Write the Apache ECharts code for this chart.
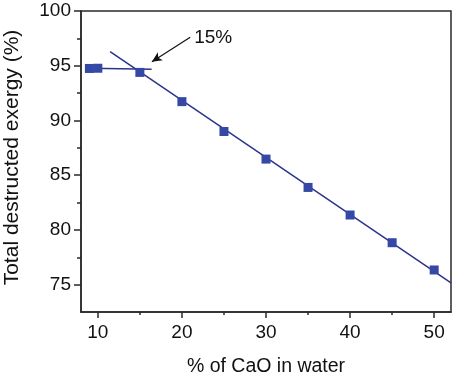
<!DOCTYPE html>
<html>
<head>
<meta charset="utf-8">
<script src="https://cdn.jsdelivr.net/npm/echarts@6/dist/echarts.min.js"></script>
<style>
html, body { margin: 0; padding: 0; background: #fff; }
#chart { width: 455px; height: 377px; }
</style>
</head>
<body>
<div id="chart"></div>
<script>
var caoPct = [9, 10, 15, 20, 25, 30, 35, 40, 45, 50];
var exergy = [94.75, 94.77, 94.39, 91.72, 88.99, 86.47, 83.88, 81.36, 78.83, 76.34];

// hand-drawn trend lines from the figure
var fitDecline = [[11.46, 96.29], [52, 75.15]];
var fitPlateau = [[9, 94.77], [16.4, 94.68]];

var xMajor = [10, 20, 30, 40, 50];
var xMinor = [15, 25, 35, 45];
var yMajor = [75, 80, 85, 90, 95, 100];
var yMinor = [77.5, 82.5, 87.5, 92.5, 97.5];

var arrowFrom = [20.99, 97.6];
var arrowTo = [16.43, 95.37];
var noteText = '15%';

var font = 'Liberation Sans, Arial, sans-serif';
var ink = '#111';
var axisCol = '#2a2a2a';

var myChart = echarts.init(document.getElementById('chart'));

myChart.setOption({
    animation: false,
    grid: {
        left: 81, top: 11, right: 4, bottom: 65,
        outerBoundsMode: 'none', containLabel: false,
        show: true, borderColor: axisCol, borderWidth: 1.5
    },
    xAxis: [{
        type: 'value', min: 8, max: 52,
        name: '% of CaO in water', nameLocation: 'middle', nameGap: 45,
        nameTextStyle: { fontFamily: font, fontSize: 19.5, color: ink },
        axisLine: { show: true, lineStyle: { color: axisCol, width: 1.5 } },
        axisTick: { show: true, length: 6, customValues: xMajor, lineStyle: { color: axisCol, width: 1.5 } },
        axisLabel: { customValues: xMajor, margin: 11, fontFamily: font, fontSize: 19, color: ink },
        splitLine: { show: false }
    }, {
        type: 'value', min: 8, max: 52, position: 'bottom',
        axisLine: { show: false },
        axisTick: { show: true, length: 3, customValues: xMinor, lineStyle: { color: axisCol, width: 1.5 } },
        axisLabel: { show: false },
        splitLine: { show: false }
    }],
    yAxis: [{
        type: 'value', min: 72.5, max: 100,
        name: 'Total destructed exergy (%)', nameLocation: 'middle', nameGap: 58,
        nameTextStyle: { fontFamily: font, fontSize: 21, color: ink, padding: [0, 0, 0, 8] },
        axisLine: { show: true, lineStyle: { color: axisCol, width: 1.5 } },
        axisTick: { show: true, length: 7, customValues: yMajor, lineStyle: { color: axisCol, width: 1.5 } },
        axisLabel: { customValues: yMajor, margin: 10, fontFamily: font, fontSize: 19, color: ink },
        splitLine: { show: false }
    }, {
        type: 'value', min: 72.5, max: 100, position: 'left',
        axisLine: { show: false },
        axisTick: { show: true, length: 4, customValues: yMinor, lineStyle: { color: axisCol, width: 1.5 } },
        axisLabel: { show: false },
        splitLine: { show: false }
    }],
    series: [
    {
        name: 'decline',
        type: 'line',
        data: fitDecline,
        symbol: 'none',
        lineStyle: { color: '#2b338c', width: 1.5 },
        z: 2
    },
    {
        name: 'plateau',
        type: 'line',
        data: fitPlateau,
        symbol: 'none',
        lineStyle: { color: '#2b338c', width: 1.5 },
        z: 2
    },
    {
        name: 'exergy',
        type: 'scatter',
        data: caoPct.map(function (x, i) { return [x, exergy[i]]; }),
        symbol: 'rect',
        symbolSize: 9,
        itemStyle: { color: '#3548a6', opacity: 1 },
        z: 3
    },
    {
        name: 'note',
        type: 'scatter',
        data: [arrowFrom],
        symbolSize: 0,
        itemStyle: { opacity: 1 },
        label: {
            show: true, position: 'right', distance: 4,
            formatter: noteText,
            fontFamily: font, fontSize: 19, color: ink
        },
        markLine: {
            silent: true,
            symbol: ['none', 'arrow'],
            symbolSize: [7, 10],
            label: { show: false },
            lineStyle: { color: '#111', width: 1.2, type: 'solid' },
            data: [[{ coord: arrowFrom }, { coord: arrowTo }]]
        }
    }
    ]
});
</script>
</body>
</html>
